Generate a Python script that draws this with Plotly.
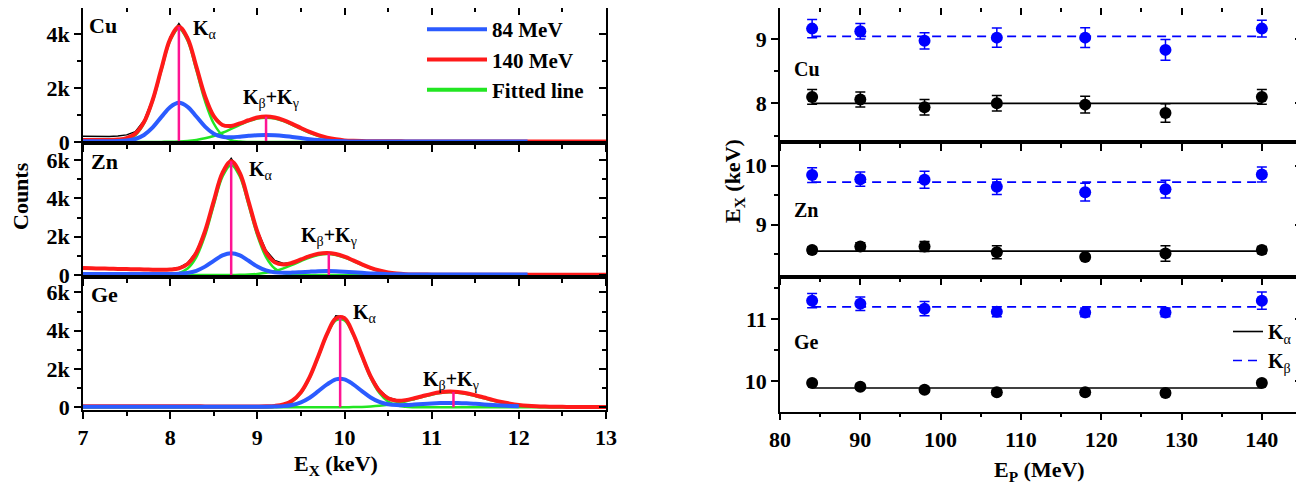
import plotly.graph_objects as go

W, H = 1304, 484
FONT = "Liberation Serif"
PAGE_OFFSET = 8  # default body margin of the html page

# ---------------- left panel: X-ray spectra ----------------
E_KEV = [7.0, 7.1, 7.2, 7.3, 7.4, 7.5, 7.6, 7.7, 7.8, 7.9,
         8.0, 8.1, 8.2, 8.3, 8.4, 8.5, 8.6, 8.7, 8.8, 8.9,
         9.0, 9.1, 9.2, 9.3, 9.4, 9.5, 9.6, 9.7, 9.8, 9.9,
         10.0, 10.1, 10.2, 10.3, 10.4, 10.5, 10.6, 10.7, 10.8, 10.9,
         11.0, 11.1, 11.2, 11.3, 11.4, 11.5, 11.6, 11.7, 11.8, 11.9,
         12.0, 12.1, 12.2, 12.3, 12.4, 12.5, 12.6, 12.7, 12.8, 12.9,
         13.0]

CU_140 = [75, 75, 75, 77, 90, 140, 310, 740, 1565, 2720,
          3810, 4270, 3840, 2790, 1695, 955, 632, 595, 688, 805,
          905, 940, 905, 810, 672, 517, 372, 252, 162, 100,
          60, 42, 33, 28, 26, 25, 24, 23, 22, 21,
          20, 20, 20, 20, 20, 20, 20, 20, 20, 20,
          18, 18, 18, 18, 18, 18, 18, 18, 18, 18,
          17]
CU_84 = [30, 30, 30, 31, 33, 52, 112, 260, 540, 930,
         1295, 1450, 1305, 945, 570, 310, 195, 175, 198, 228,
         252, 260, 250, 226, 186, 146, 106, 74, 50, 33,
         24, 20, 18, 17, 16, 16, 15, 15, 15, 15,
         15, 15, 15, 15, 15, 15, 15, 15, 15, 15,
         15, 15]
CU_RAW = [215, 205, 198, 205, 220, 265, 380, 800, 1620, 2790,
          3900, 4390, 3910, 2830, 1700, 960, 640, 605, 695, 815,
          925, 965, 925, 820, 680, 520, 375, 255, 164, 101,
          60, 42, 33, 28, 26, 25, 24, 23, 22, 21,
          20, 20, 20, 20, 20, 20, 20, 20, 20, 20,
          18, 18, 18, 18, 18, 18, 18, 18, 18, 18,
          17]
CU_FIT_KA = [0, 0, 0, 3, 16, 71, 247, 685, 1512, 2667,
             3751, 4200, 3751, 2667, 1512, 685, 247, 71, 16, 3] + [0] * 41
CU_FIT_KB = [0, 0, 0, 0, 0, 0, 0, 0, 1, 4,
             8, 19, 40, 77, 136, 224, 343, 485, 636, 771,
             866, 900, 866, 771, 636, 485, 343, 224, 136, 77,
             40, 19, 8, 4, 1] + [0] * 26

ZN_140 = [360, 350, 340, 330, 320, 310, 300, 290, 280, 270,
          282, 347, 578, 1167, 2290, 3861, 5335, 5944, 5316, 3827,
          2258, 1173, 659, 546, 640, 812, 985, 1110, 1150, 1095,
          955, 763, 558, 377, 236, 139, 80, 46, 31, 24] + [20] * 21
ZN_84 = [50, 50, 50, 50, 50, 50, 50, 50, 50, 50,
         52, 69, 110, 222, 438, 740, 1022, 1140, 1024, 743,
         445, 237, 138, 113, 126, 150, 175, 196, 205, 196,
         175, 147, 115, 85, 63, 46, 37, 32, 30, 30,
         30, 30, 30, 30, 30, 30, 30, 30, 30, 30,
         30, 30]
ZN_RAW = [370, 345, 352, 325, 330, 305, 310, 288, 295, 280,
          310, 390, 630, 1220, 2330, 3920, 5420, 6100, 5400, 3900,
          2350, 1290, 760, 610, 660, 830, 1000, 1130, 1170, 1110,
          955, 763, 558, 377, 236, 139, 80, 46, 31, 24] + [20] * 21
ZN_FIT_KA = [0, 0, 0, 0, 0, 0, 0, 0, 0, 4,
             22, 97, 338, 937, 2070, 3651, 5135, 5750, 5135, 3651,
             2070, 937, 338, 97, 22, 4] + [0] * 35
ZN_FIT_KB = [0] * 10 + [0, 0, 0, 0, 0, 0, 2, 4, 11, 26,
                        58, 116, 211, 349, 528, 728, 915, 1050, 1100, 1050,
                        915, 728, 528, 349, 211, 116, 58, 26, 11, 4,
                        2] + [0] * 20

GE_140 = [60, 59, 58, 57, 56, 55, 54, 53, 52, 51,
          50, 50, 49, 49, 48, 48, 47, 47, 46, 46,
          47, 52, 73, 146, 345, 787, 1575, 2680, 3830, 4640,
          4650, 3840, 2700, 1615, 860, 471, 349, 375, 471, 589,
          700, 782, 820, 802, 735, 631, 509, 386, 277, 190,
          125, 80, 52, 36, 27, 23, 21, 20, 20, 20,
          20]
GE_84 = [30] * 20 + [30, 31, 39, 61, 122, 259, 502, 842, 1197, 1460,
                     1460, 1199, 848, 513, 279, 155, 114, 117, 141, 170,
                     199, 220, 230, 226, 209, 182, 151, 120, 92, 71,
                     54]
GE_RAW = [75, 62, 70, 66, 72, 60, 68, 63, 70, 58,
          66, 60, 64, 57, 62, 55, 60, 52, 58, 54,
          56, 60, 85, 160, 360, 800, 1600, 2720, 3900, 4780,
          4720, 3920, 2760, 1670, 920, 515, 385, 400, 490, 610,
          720, 805, 845, 815, 745, 640, 520, 395, 285, 195,
          130, 85, 55, 40, 30, 26, 24, 22, 22, 21,
          21]
GE_FIT_KA = [0] * 20 + [1, 6, 28, 101, 300, 742, 1531, 2636, 3786, 4538,
                        4538, 3786, 2636, 1531, 742, 300, 101, 28, 6, 1] + [0] * 21
GE_FIT_KB = [0] * 28 + [1, 2,
                        5, 10, 21, 41, 76, 129, 206, 306, 424, 547,
                        660, 742, 780, 763, 697, 594, 473, 351, 243, 158,
                        95, 53, 28, 14, 6, 3, 1, 0, 0, 0,
                        0]

# peak positions (keV) and heights (counts) of the marker lines
CU_PEAK_E = [8.10, 9.10]
CU_PEAK_C = [4270, 935]
ZN_PEAK_E = [8.70, 9.82]
ZN_PEAK_C = [5940, 1120]
GE_PEAK_E = [9.95, 11.25]
GE_PEAK_C = [4660, 800]

# ---------------- right panel: peak energies vs beam energy ----------------
EP_MEV = [84, 90, 98, 107, 118, 128, 140]
CU_KA = [8.10, 8.06, 7.94, 8.00, 7.98, 7.85, 8.10]
CU_KA_ERR = [0.115, 0.115, 0.12, 0.12, 0.13, 0.145, 0.115]
CU_KB = [9.16, 9.12, 8.97, 9.02, 9.02, 8.83, 9.16]
CU_KB_ERR = [0.14, 0.12, 0.125, 0.15, 0.155, 0.16, 0.13]
ZN_KA = [8.57, 8.63, 8.63, 8.53, 8.45, 8.51, 8.57]
ZN_KA_ERR = [0.05, 0.06, 0.085, 0.11, 0.04, 0.13, 0.06]
ZN_KB = [9.84, 9.77, 9.76, 9.64, 9.55, 9.60, 9.85]
ZN_KB_ERR = [0.125, 0.12, 0.145, 0.13, 0.15, 0.15, 0.128]
GE_KA = [9.97, 9.91, 9.86, 9.82, 9.82, 9.81, 9.97]
GE_KA_ERR = [0.04, 0.04, 0.04, 0.04, 0.04, 0.04, 0.04]
GE_KB = [11.30, 11.25, 11.17, 11.12, 11.11, 11.11, 11.30]
GE_KB_ERR = [0.115, 0.11, 0.115, 0.08, 0.07, 0.07, 0.14]
FIT_KA = {"Cu": 8.00, "Zn": 8.55, "Ge": 9.89}
FIT_KB = {"Cu": 9.04, "Zn": 9.72, "Ge": 11.20}

# ---------------- styling ----------------
C_RED = "#ff1a1a"
C_BLUE = "#2b5bff"
C_GREEN = "#22e622"
C_MAG = "#ff1493"
C_DOT_BLUE = "#0000ff"


def px_x(p):
    return (p - PAGE_OFFSET) / W


def px_y(p):
    return 1 - (p - PAGE_OFFSET) / H


TICKFONT = dict(family=FONT, size=22, color="black", weight="bold")

fig = go.Figure()
layout = {}


def axis_pair(idx, xdom, ydom, xr, yr, xd, xm, yd, ym, show_xlab, yfmt):
    common = dict(showgrid=False, zeroline=False, showline=True, linecolor="black",
                  linewidth=1.8, tickcolor="black", tickwidth=1.6, ticklen=7,
                  automargin=False)
    layout[f"xaxis{idx}"] = dict(common, domain=xdom, range=xr, anchor=f"y{idx}",
                                 ticks="outside", dtick=xd, tick0=0,
                                 showticklabels=show_xlab, tickfont=TICKFONT,
                                 minor=dict(ticks="outside", dtick=xm, tick0=0, ticklen=4,
                                            tickwidth=1.6, tickcolor="black", showgrid=False))
    layout[f"yaxis{idx}"] = dict(common, domain=ydom, range=yr, anchor=f"x{idx}",
                                 ticks="outside", dtick=yd, tick0=0, tickformat=yfmt,
                                 tickfont=TICKFONT,
                                 minor=dict(ticks="outside", dtick=ym, tick0=0, ticklen=4,
                                            tickwidth=1.6, tickcolor="black", showgrid=False))
    o = idx + 6
    layout[f"xaxis{o}"] = dict(common, range=xr, overlaying=f"x{idx}", side="top",
                               anchor=f"y{idx}", ticks="inside", dtick=xd, tick0=0,
                               showticklabels=False,
                               minor=dict(ticks="inside", dtick=xm, tick0=0, ticklen=4,
                                          tickwidth=1.6, tickcolor="black", showgrid=False))
    layout[f"yaxis{o}"] = dict(common, range=yr, overlaying=f"y{idx}", side="right",
                               anchor=f"x{idx}", ticks="inside", dtick=yd, tick0=0,
                               showticklabels=False,
                               minor=dict(ticks="inside", dtick=ym, tick0=0, ticklen=4,
                                          tickwidth=1.6, tickcolor="black", showgrid=False))
    fig.add_trace(go.Scatter(x=[None], y=[None], xaxis=f"x{o}", yaxis=f"y{o}",
                             showlegend=False, hoverinfo="skip"))


LX = [px_x(83), px_x(606)]
RX = [px_x(780), px_x(1302)]
axis_pair(1, LX, [px_y(143), px_y(8)], [7, 13], [-37, 4963], 1, 0.5, 2000, 1000, False, "~s")
axis_pair(2, LX, [px_y(277), px_y(143)], [7, 13], [-104, 6893], 1, 0.5, 2000, 1000, False, "~s")
axis_pair(3, LX, [px_y(410), px_y(277)], [7, 13], [-141, 6804], 1, 0.5, 2000, 1000, True, "~s")
axis_pair(4, RX, [px_y(142), px_y(8)], [80, 145], [7.40, 9.48], 10, 5, 1, 0.5, False, "")
axis_pair(5, RX, [px_y(276.5), px_y(142)], [80, 145], [8.12, 10.40], 10, 5, 1, 0.5, False, "")
axis_pair(6, RX, [px_y(411.5), px_y(276.5)], [80, 145], [9.51, 11.69], 10, 5, 1, 0.5, True, "")

spectra = [
    (1, CU_RAW, CU_FIT_KA, CU_FIT_KB, CU_140, CU_84, CU_PEAK_E, CU_PEAK_C),
    (2, ZN_RAW, ZN_FIT_KA, ZN_FIT_KB, ZN_140, ZN_84, ZN_PEAK_E, ZN_PEAK_C),
    (3, GE_RAW, GE_FIT_KA, GE_FIT_KB, GE_140, GE_84, GE_PEAK_E, GE_PEAK_C),
]
for idx, raw, fka, fkb, s140, s84, pe, pc in spectra:
    xa, ya = f"x{idx}", f"y{idx}"
    first = idx == 1
    fig.add_trace(go.Scatter(x=E_KEV, y=raw, mode="lines", line=dict(color="black", width=1.4),
                             xaxis=xa, yaxis=ya, showlegend=False, hoverinfo="skip"))
    for f in [fka, fkb]:
        fig.add_trace(go.Scatter(x=E_KEV, y=f, mode="lines", name="Fitted line",
                                 line=dict(color=C_GREEN, width=2.5, shape="spline"),
                                 xaxis=xa, yaxis=ya, legendgroup="fit", showlegend=False))
    fig.add_trace(go.Scatter(x=E_KEV, y=s140, mode="lines", name="140 MeV",
                             line=dict(color=C_RED, width=4, shape="spline"),
                             xaxis=xa, yaxis=ya, legendrank=2, showlegend=first))
    fig.add_trace(go.Scatter(x=E_KEV[:len(s84)], y=s84, mode="lines", name="84 MeV",
                             line=dict(color=C_BLUE, width=4, shape="spline"),
                             xaxis=xa, yaxis=ya, legendrank=1, showlegend=first))
    fig.add_trace(go.Scatter(x=[pe[0], pe[0], None, pe[1], pe[1]],
                             y=[0, pc[0], None, 0, pc[1]], mode="lines",
                             line=dict(color=C_MAG, width=2.5), xaxis=xa, yaxis=ya,
                             showlegend=False, hoverinfo="skip"))

# legend entry for the fitted lines (thick sample, as in the original legend)
fig.add_trace(go.Scatter(x=[None], y=[None], mode="lines", name="Fitted line",
                         line=dict(color=C_GREEN, width=4), xaxis="x1", yaxis="y1",
                         legendgroup="fit", legendrank=3, showlegend=True, hoverinfo="skip"))

energies = [
    (4, "Cu", CU_KA, CU_KA_ERR, CU_KB, CU_KB_ERR),
    (5, "Zn", ZN_KA, ZN_KA_ERR, ZN_KB, ZN_KB_ERR),
    (6, "Ge", GE_KA, GE_KA_ERR, GE_KB, GE_KB_ERR),
]
for idx, el, ka, kae, kb, kbe in energies:
    xa, ya = f"x{idx}", f"y{idx}"
    last = idx == 6
    fx = [EP_MEV[0], EP_MEV[-1]]
    fig.add_trace(go.Scatter(x=fx, y=[FIT_KA[el]] * 2, mode="lines", name="<b>K</b><sub>α</sub>",
                             line=dict(color="black", width=1.6), xaxis=xa, yaxis=ya,
                             legend="legend2", showlegend=last))
    fig.add_trace(go.Scatter(x=fx, y=[FIT_KB[el]] * 2, mode="lines", name="<b>K</b><sub>β</sub>",
                             line=dict(color=C_DOT_BLUE, width=1.6, dash="9px,6px"),
                             xaxis=xa, yaxis=ya, legend="legend2", showlegend=last))
    fig.add_trace(go.Scatter(x=EP_MEV, y=ka, mode="markers",
                             marker=dict(color="black", size=12),
                             error_y=dict(type="data", array=kae, color="black", thickness=1.5, width=5),
                             xaxis=xa, yaxis=ya, showlegend=False))
    fig.add_trace(go.Scatter(x=EP_MEV, y=kb, mode="markers",
                             marker=dict(color=C_DOT_BLUE, size=12),
                             error_y=dict(type="data", array=kbe, color=C_DOT_BLUE, thickness=1.5, width=5),
                             xaxis=xa, yaxis=ya, showlegend=False))

annotations = []


def note(text, x, y, size=22, xanchor="left", angle=0, weight="normal"):
    annotations.append(dict(text=text, x=px_x(x), y=px_y(y), xref="paper", yref="paper",
                            xanchor=xanchor, yanchor="middle", showarrow=False, textangle=angle,
                            font=dict(family=FONT, size=size, color="black", weight=weight)))


# element labels
note("<b>Cu</b>", 87, 26)
note("<b>Zn</b>", 89, 162)
note("<b>Ge</b>", 89, 294)
note("<b>Cu</b>", 792, 69, size=20)
note("<b>Zn</b>", 792, 210, size=20)
note("<b>Ge</b>", 792, 342, size=20)
# peak labels
note("<b>K</b><sub>α</sub>", 191, 30, size=20)
note("<b>K</b><sub>β</sub><b>+K</b><sub>γ</sub>", 241, 99, size=20)
note("<b>K</b><sub>α</sub>", 247, 170, size=20)
note("<b>K</b><sub>β</sub><b>+K</b><sub>γ</sub>", 299, 237, size=20)
note("<b>K</b><sub>α</sub>", 351, 313, size=20)
note("<b>K</b><sub>β</sub><b>+K</b><sub>γ</sub>", 421, 380, size=20)
# axis titles
note("<b>Counts</b>", 20, 196, xanchor="center", angle=-90)
note("<b>E<sub>X</sub> (keV)</b>", 336, 465, xanchor="center")
note("<b>E<sub>X</sub> (keV)</b>", 734, 181, xanchor="center", angle=-90)
note("<b>E<sub>P</sub> (MeV)</b>", 1039, 471, xanchor="center")

layout.update(
    width=W, height=H, autosize=False,
    margin=dict(l=0, r=0, t=0, b=0, autoexpand=False),
    paper_bgcolor="white", plot_bgcolor="white",
    annotations=annotations,
    legend=dict(x=px_x(422), y=px_y(9), xanchor="left", yanchor="top",
                bgcolor="rgba(0,0,0,0)", tracegroupgap=0, itemwidth=60,
                font=dict(family=FONT, size=21, color="black", weight="bold")),
    legend2=dict(x=px_x(1228), y=px_y(312), xanchor="left", yanchor="top",
                 bgcolor="rgba(0,0,0,0)", tracegroupgap=0,
                 font=dict(family=FONT, size=20, color="black")),
    showlegend=True,
)
fig.update_layout(**layout)
fig.write_html("out.html")
